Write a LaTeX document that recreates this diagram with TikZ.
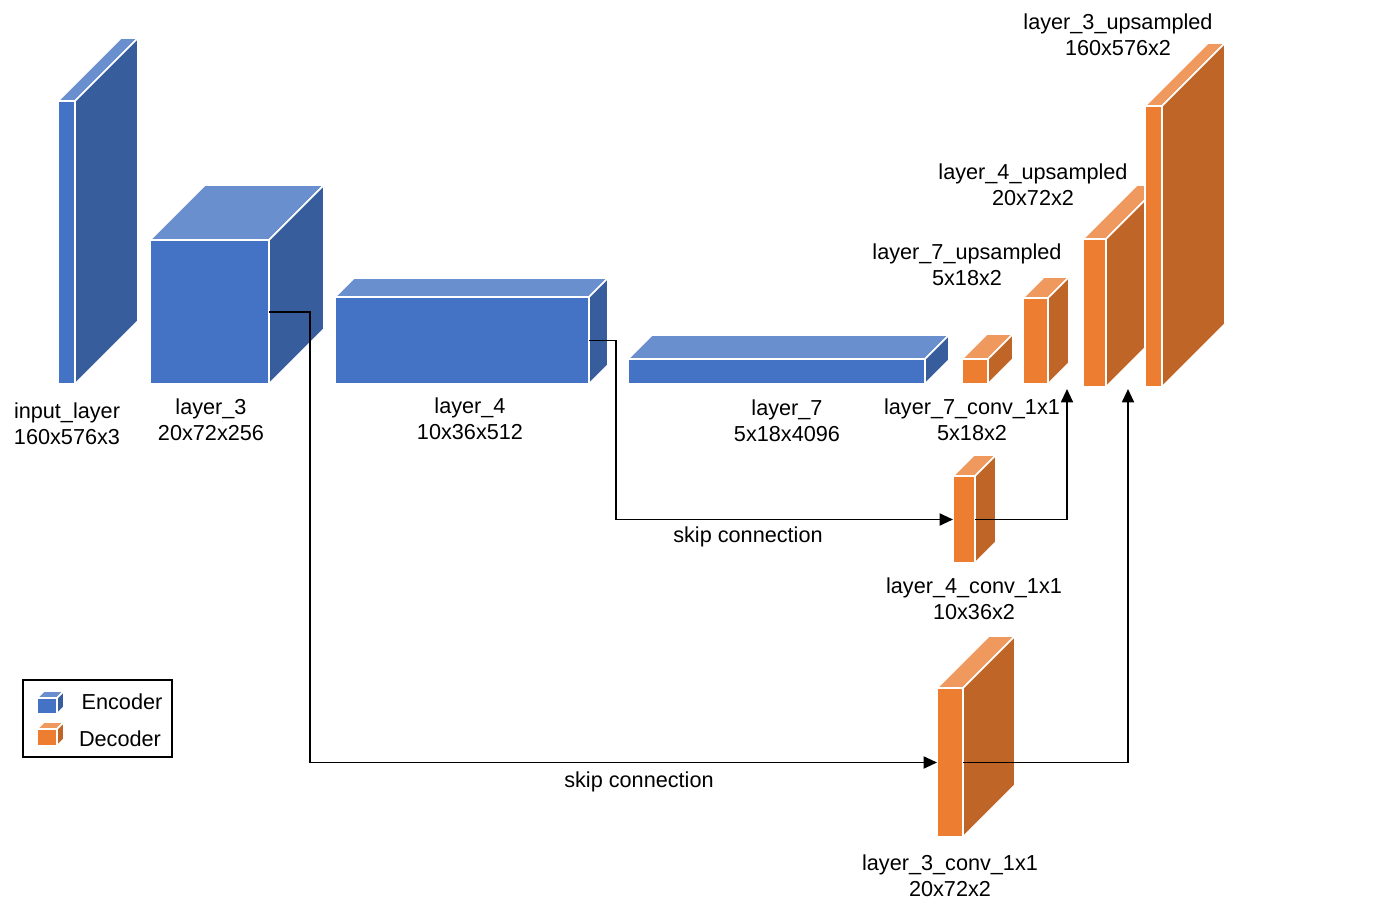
\documentclass[tikz,border=0pt]{standalone}
\usepackage{fontspec}
\setmainfont{Liberation Sans}
\usetikzlibrary{fit,arrows.meta,calc}
\definecolor{bfront}{HTML}{4472C4}
\definecolor{btop}{HTML}{6A8FCF}
\definecolor{bside}{HTML}{385D9D}
\definecolor{ofront}{HTML}{ED7D31}
\definecolor{otop}{HTML}{F0995E}
\definecolor{oside}{HTML}{BF6528}
\tikzset{
  cubface/.style={draw=white, line width=1.2pt, line join=miter},
  frontface/.style={cubface, inner sep=0pt, outer sep=0pt},
  lbl/.style={align=center, inner sep=0pt, font=\fontsize{16.25pt}{19.5pt}\selectfont},
  conn/.style={draw=black, line width=1.4pt, -{Triangle[length=10pt,width=9pt]}},
}
% name, x1, y1, x2, y2, depth, colour prefix
\newcommand\mycuboid[7]{%
  \coordinate (#1-a) at (#2,#3);
  \coordinate (#1-b) at (#4,#5);
  \node[frontface, fill=#7front, fit=(#1-a)(#1-b)] (#1) {};
  \filldraw[cubface, fill=#7top] (#1.north west) -- ++(#6,-#6) -- ($(#1.north east)+(#6,-#6)$) -- (#1.north east) -- cycle;
  \filldraw[cubface, fill=#7side] (#1.north east) -- ++(#6,-#6) -- ($(#1.south east)+(#6,-#6)$) -- (#1.south east) -- cycle;
}
\begin{document}
\begin{tikzpicture}[x=0.75pt, y=-0.75pt]
\useasboundingbox (0,0) rectangle (1375,916);

% encoder
\mycuboid{inp}{58}{101}{75}{384}{63}{b}
\mycuboid{l3}{150}{240}{269}{384}{55}{b}
\mycuboid{l4}{335}{297}{589}{384}{19}{b}
\mycuboid{l7}{628}{359}{925}{384}{24}{b}

% decoder
\mycuboid{l7c}{962}{359}{988}{384}{25}{o}
\mycuboid{l7up}{1023}{298}{1048}{384}{21}{o}
\mycuboid{l4up}{1083}{239}{1106}{387}{54}{o}
\mycuboid{l3up}{1145}{106}{1162}{387}{63}{o}
\mycuboid{l4c}{953}{476}{975}{563}{21}{o}
\mycuboid{l3c}{937}{688}{963}{837}{52}{o}

% labels
\node[lbl] (t-inp) at (67,424) {input\_layer\\160x576x3};
\node[lbl] (t-l3) at (211,419.5) {layer\_3\\20x72x256};
\node[lbl] (t-l4) at (470,418.5) {layer\_4\\10x36x512};
\node[lbl] (t-l7) at (787,421) {layer\_7\\5x18x4096};
\node[lbl] (t-l7c) at (972,419.5) {layer\_7\_conv\_1x1\\5x18x2};
\node[lbl] (t-l4c) at (974,599) {layer\_4\_conv\_1x1\\10x36x2};
\node[lbl] (t-l3c) at (950,876) {layer\_3\_conv\_1x1\\20x72x2};
\node[lbl] (t-l7up) at (967,265) {layer\_7\_upsampled\\5x18x2};
\node[lbl] (t-l4up) at (1033,185) {layer\_4\_upsampled\\20x72x2};
\node[lbl] (t-l3up) at (1118,35) {layer\_3\_upsampled\\160x576x2};

% connectors
\coordinate (in7) at (1067,389);
\coordinate (in4) at (1128,389);
\draw[conn] (l3.east) -- ++(41,0) |- (l3c.west);
\draw[conn] (l4.east) -- ++(27,0) |- (l4c.west);
\draw[conn] (l4c.east) -| (in7);
\draw[conn] (l3c.east) -| (in4);
\node[lbl] (sk1) at (748,537) {skip connection};
\node[lbl] (sk2) at (639,782) {skip connection};

% legend
\coordinate (lg-a) at (23,680);
\coordinate (lg-b) at (172,757);
\node[draw=black, line width=1.4pt, inner sep=0pt, fit=(lg-a)(lg-b)] (legend) {};
\mycuboid{encicon}{37}{698}{57}{714}{7}{b}
\mycuboid{decicon}{37}{729}{57}{746}{7}{o}
\node[lbl] (t-enc) at (122,702) {Encoder};
\node[lbl] (t-dec) at (120,739) {Decoder};
\end{tikzpicture}
\end{document}
